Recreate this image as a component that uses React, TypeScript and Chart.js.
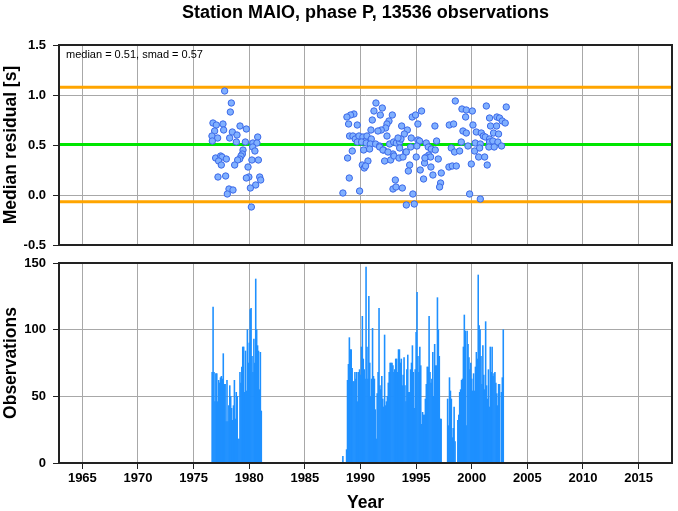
import React, { useEffect, useRef } from 'react';
import { Chart, registerables } from 'chart.js';

Chart.register(...registerables);

const TITLE = 'Station MAIO, phase P, 13536 observations';
const STATS_TEXT = 'median = 0.51, smad = 0.57';
const MEDIAN = 0.505;
const SMAD = 0.572;
const X_MIN = 1962.9;
const X_MAX = 2018;
const YEAR_TICKS = [1965, 1970, 1975, 1980, 1985, 1990, 1995, 2000, 2005, 2010, 2015];
const RES_TICKS = [-0.5, 0, 0.5, 1, 1.5];
const OBS_TICKS = [0, 50, 100, 150];

// monthly observation counts, first month Sep 1976
const EARLY_START = 1976 + 8 / 12;
const earlyCounts = [
  68, 117, 68, 46, 67, 67, 46, 62, 60, 64,
  65, 63, 82, 59, 59, 31, 62, 31, 43, 58,
  50, 41, 32, 43, 62, 33, 53, 50, 18, 18,
  68, 60, 72, 87, 87, 53, 84, 54, 100, 75,
  90, 115, 116, 80, 68, 93, 75, 138, 100, 88,
  84, 55, 83, 39,
];

// monthly observation counts, first month Jun 1988
const LATE_START = 1988 + 5 / 12;
const lateCounts = [
  5, 0, 0, 0, 10,
  62, 74, 94, 85, 85, 71, 61, 61, 68, 63,
  68, 46, 68, 70, 66, 87, 110, 78, 70, 63,
  147, 87, 63, 125, 75, 50, 63, 101, 65, 63,
  40, 18, 52, 68, 116, 58, 55, 65, 48, 42,
  96, 43, 46, 50, 60, 68, 75, 75, 75, 73,
  68, 70, 78, 78, 68, 85, 85, 75, 78, 58,
  66, 79, 58, 46, 70, 81, 53, 53, 70, 75,
  88, 68, 41, 70, 98, 128, 80, 68, 87,
  73, 29, 38, 36, 36, 48, 59, 72, 72, 110,
  68, 60, 63, 83, 50, 89, 73, 73, 124, 100,
  80, 33, 33, 0, 0, 0, 0, 0, 0,
  48, 28, 64, 54, 48, 19, 26, 42, 16, 0,
  0, 32, 36, 53, 55, 62, 63, 87, 111, 99,
  28, 99, 89, 79, 70, 75, 63, 54, 67, 54,
  72, 83, 78, 141, 103, 100, 80, 59, 88, 66,
  55, 106, 58, 48, 70, 42, 87, 68, 87, 65,
  67, 68, 60, 52, 43, 59, 59, 0, 53, 64,
  100,
];

// monthly median residuals [s]
const resYears = [
  1977.79, 1978.39, 1978.30, 1976.74, 1977.04, 1977.64, 1979.17, 1976.89, 1977.70, 1979.74,
  1978.48, 1976.65, 1977.16, 1978.24, 1978.90, 1980.76, 1976.68, 1978.84, 1979.65, 1980.33,
  1980.69, 1980.31, 1979.44, 1980.51, 1979.38, 1979.26, 1979.14, 1976.98, 1977.43, 1977.55,
  1977.94, 1977.25, 1978.96, 1978.69, 1977.49, 1980.24, 1980.82, 1979.89, 1977.19, 1977.88,
  1979.97, 1980.94, 1979.74, 1981.03, 1980.58, 1980.10, 1978.18, 1978.54, 1978.03, 1980.19,
  1991.39, 1991.96, 1991.21, 1991.78, 1992.86, 1989.41, 1989.11, 1988.78, 1991.06, 1988.93,
  1989.71, 1992.56, 1992.38, 1992.26, 1993.70, 1991.87, 1991.57, 1990.94, 1992.38, 1994.21,
  1993.94, 1994.65, 1994.95, 1995.49, 1995.16, 1996.69, 1997.98, 1998.37, 1998.52, 1999.12,
  1999.51, 2000.05, 1999.45, 2001.31, 2003.10, 2001.60, 2002.26, 2002.50, 2002.74, 2003.01,
  2000.11, 1999.21, 1999.51, 2000.41, 2000.86, 2001.04, 2001.22, 2001.60, 2001.96, 2002.41,
  2001.69, 2002.23, 1989.02, 1989.32, 1989.53, 1989.86, 1990.22, 1990.43, 1990.58, 1990.97,
  1989.71, 1990.10, 1990.52, 1990.88, 1991.36, 1991.72, 1992.08, 1992.62, 1992.98, 1993.22,
  1993.52, 1993.64, 1993.37, 1994.56, 1995.16, 1995.31, 1995.91, 1996.84, 1999.06, 1999.66,
  2000.32, 2000.77, 2001.60, 2001.90, 2002.35, 2002.68, 1989.26, 1990.28, 1990.82, 1991.72,
  1992.02, 1992.92, 1992.47, 1993.52, 1994.06, 1994.51, 1995.07, 1996.09, 1996.36, 1996.72,
  1998.16, 1998.46, 1998.91, 2000.26, 2000.71, 2001.54, 2002.02, 1988.84, 1990.67, 1990.16,
  1990.34, 1990.46, 1992.17, 1992.71, 1993.01, 1993.46, 1993.82, 1994.12, 1995.01, 1995.76,
  1996.15, 1995.91, 1996.30, 1996.99, 1996.33, 1995.79, 1994.42, 1994.30, 1995.37, 1996.51,
  1997.26, 1997.95, 1998.25, 1998.61, 1999.96, 2000.62, 2001.16, 2001.39, 1988.99, 1993.13,
  1992.92, 1993.19, 1993.76, 1995.67, 1997.20, 1997.11, 1988.42, 1989.92, 1994.71, 1999.81,
  2000.77, 1994.12, 1994.83,
];
const resValues = [
  1.04, 0.92, 0.83, 0.72, 0.70, 0.71, 0.69, 0.64, 0.65, 0.66,
  0.63, 0.59, 0.57, 0.57, 0.60, 0.58, 0.54, 0.53, 0.53, 0.52,
  0.52, 0.48, 0.45, 0.44, 0.41, 0.39, 0.36, 0.37, 0.39, 0.38,
  0.36, 0.34, 0.35, 0.30, 0.30, 0.35, 0.35, 0.28, 0.18, 0.19,
  0.18, 0.18, 0.17, 0.15, 0.10, 0.07, 0.06, 0.05, 0.01, -0.12,
  0.92, 0.87, 0.84, 0.80, 0.80, 0.81, 0.80, 0.78, 0.75, 0.71,
  0.70, 0.74, 0.71, 0.67, 0.69, 0.65, 0.64, 0.65, 0.59, 0.65,
  0.61, 0.78, 0.80, 0.84, 0.71, 0.69, 0.70, 0.71, 0.94, 0.86,
  0.85, 0.84, 0.78, 0.89, 0.88, 0.77, 0.78, 0.77, 0.74, 0.72,
  0.70, 0.64, 0.62, 0.63, 0.62, 0.59, 0.58, 0.56, 0.62, 0.61,
  0.69, 0.69, 0.59, 0.59, 0.56, 0.59, 0.58, 0.54, 0.59, 0.56,
  0.53, 0.53, 0.52, 0.51, 0.51, 0.49, 0.45, 0.51, 0.53, 0.52,
  0.53, 0.56, 0.57, 0.57, 0.55, 0.54, 0.52, 0.54, 0.53, 0.49,
  0.52, 0.51, 0.53, 0.54, 0.53, 0.49, 0.44, 0.45, 0.46, 0.48,
  0.45, 0.41, 0.43, 0.47, 0.43, 0.48, 0.49, 0.48, 0.46, 0.45,
  0.47, 0.43, 0.44, 0.44, 0.47, 0.48, 0.48, 0.37, 0.34, 0.30,
  0.27, 0.29, 0.34, 0.35, 0.39, 0.37, 0.38, 0.43, 0.38, 0.32,
  0.40, 0.38, 0.38, 0.36, 0.28, 0.37, 0.30, 0.24, 0.25, 0.20,
  0.22, 0.28, 0.29, 0.29, 0.31, 0.38, 0.38, 0.30, 0.17, 0.15,
  0.06, 0.08, 0.07, 0.16, 0.12, 0.08, 0.02, 0.04, 0.01, 0.01,
  -0.04, -0.10, -0.09,
];

const FONT_FAMILY = "'Liberation Sans', Arial, Helvetica, sans-serif";
const GRID = '#a8a8a8';
const FRAME = '#222222';
const TICK_FONT = { family: FONT_FAMILY, size: 13, weight: 'bold' as const };
const AXIS_FONT = { family: FONT_FAMILY, size: 17.5, weight: 'bold' as const };

const framePlugin = {
  id: 'frame',
  afterDraw(chart: any) {
    const { ctx, chartArea: a } = chart;
    ctx.save();
    ctx.strokeStyle = FRAME;
    ctx.lineWidth = 2;
    ctx.strokeRect(a.left, a.top, a.right - a.left, a.bottom - a.top);
    ctx.restore();
  },
};

const textPlugin = {
  id: 'texts',
  afterDraw(chart: any) {
    const { ctx, chartArea: a } = chart;
    ctx.save();
    ctx.fillStyle = '#000';
    ctx.textAlign = 'center';
    ctx.textBaseline = 'middle';
    ctx.font = `bold 18px ${FONT_FAMILY}`;
    ctx.fillText(TITLE, (a.left + a.right) / 2, 13);
    ctx.textAlign = 'left';
    ctx.font = `11px ${FONT_FAMILY}`;
    ctx.fillText(STATS_TEXT, a.left + 7, a.top + 10);
    ctx.restore();
  },
};

function monthSeries(start: number, counts: number[]) {
  return counts.map((y, i) => ({ x: start + i / 12, y }));
}

function hLine(y: number, color: string) {
  return {
    data: [{ x: X_MIN, y }, { x: X_MAX, y }],
    showLine: true,
    borderColor: color,
    backgroundColor: color,
    borderWidth: 3,
    pointRadius: 0,
    order: 1,
  };
}

const fixY = (s: any) => {
  s.width = 59;
  s.paddingTop = 0;
  s.paddingBottom = 0;
};

export default function App() {
  const topRef = useRef<HTMLCanvasElement>(null);
  const botRef = useRef<HTMLCanvasElement>(null);

  useEffect(() => {
    Chart.defaults.font.family = FONT_FAMILY;
    const yearTicks = (s: any) => { s.ticks = YEAR_TICKS.map((v) => ({ value: v })); };

    const top = new Chart(topRef.current!, {
      type: 'scatter',
      data: {
        datasets: [
          {
            data: resYears.map((x, i) => ({ x, y: resValues[i] })),
            backgroundColor: 'rgb(128,176,255)',
            borderColor: 'rgb(60,105,232)',
            borderWidth: 1,
            pointRadius: 3.2,
            order: 0,
          } as any,
          hLine(MEDIAN + SMAD, '#ffa500'),
          hLine(MEDIAN - SMAD, '#ffa500'),
          hLine(MEDIAN, '#00e600'),
        ],
      },
      options: {
        animation: false,
        responsive: false,
        layout: { padding: { top: 45, right: 6, bottom: 3, left: 0 } },
        plugins: { legend: { display: false }, tooltip: { enabled: false } },
        scales: {
          x: {
            type: 'linear', min: X_MIN, max: X_MAX,
            afterBuildTicks: yearTicks,
            afterFit: (s: any) => { s.height = 0; s.paddingLeft = 0; s.paddingRight = 0; },
            ticks: { display: false },
            grid: { color: GRID, drawTicks: false },
            border: { display: false },
          },
          y: {
            type: 'linear', min: -0.5, max: 1.5,
            afterBuildTicks: (s: any) => { s.ticks = RES_TICKS.map((v) => ({ value: v })); },
            afterFit: fixY,
            ticks: { callback: (v: any) => Number(v).toFixed(1), font: TICK_FONT, color: '#000', padding: 7 },
            grid: { color: GRID, tickLength: 6, tickColor: FRAME },
            border: { display: false },
            title: { display: true, text: 'Median residual [s]', font: AXIS_FONT, color: '#000', padding: { top: 1, bottom: 0 } },
          },
        },
      } as any,
      plugins: [framePlugin, textPlugin],
    });

    const bot = new Chart(botRef.current!, {
      type: 'bar',
      data: {
        datasets: [
          {
            data: [...monthSeries(EARLY_START, earlyCounts), ...monthSeries(LATE_START, lateCounts)],
            backgroundColor: 'rgb(30,144,255)',
            borderWidth: 0,
            categoryPercentage: 1,
            barPercentage: 1,
          } as any,
        ],
      },
      options: {
        animation: false,
        responsive: false,
        layout: { padding: { top: 13, right: 6, bottom: 0, left: 0 } },
        plugins: { legend: { display: false }, tooltip: { enabled: false } },
        scales: {
          x: {
            type: 'linear', min: X_MIN, max: X_MAX, offset: false,
            afterBuildTicks: yearTicks,
            afterFit: (s: any) => { s.height = 48; s.paddingLeft = 0; s.paddingRight = 0; },
            ticks: { callback: (v: any) => String(v), font: TICK_FONT, color: '#000', padding: 2, maxRotation: 0, autoSkip: false },
            grid: { color: GRID, offset: false, tickLength: 6, tickColor: FRAME },
            border: { display: false },
            title: { display: true, text: 'Year', font: AXIS_FONT, color: '#000', padding: { top: 0, bottom: -3 } },
          },
          y: {
            type: 'linear', min: 0, max: 150,
            afterBuildTicks: (s: any) => { s.ticks = OBS_TICKS.map((v) => ({ value: v })); },
            afterFit: fixY,
            ticks: { callback: (v: any) => String(v), font: TICK_FONT, color: '#000', padding: 7 },
            grid: { color: GRID, tickLength: 6, tickColor: FRAME },
            border: { display: false },
            title: { display: true, text: 'Observations', font: AXIS_FONT, color: '#000', padding: { top: 1, bottom: 0 } },
          },
        },
      } as any,
      plugins: [framePlugin],
    });

    return () => { top.destroy(); bot.destroy(); };
  }, []);

  return (
    <div style={{ position: 'absolute', left: 0, top: 0, width: 678, height: 511, background: '#fff', overflow: 'hidden' }}>
      <canvas ref={topRef} width={678} height={250} style={{ position: 'absolute', left: 0, top: 0, display: 'block' }} />
      <canvas ref={botRef} width={678} height={261} style={{ position: 'absolute', left: 0, top: 250, display: 'block' }} />
    </div>
  );
}
